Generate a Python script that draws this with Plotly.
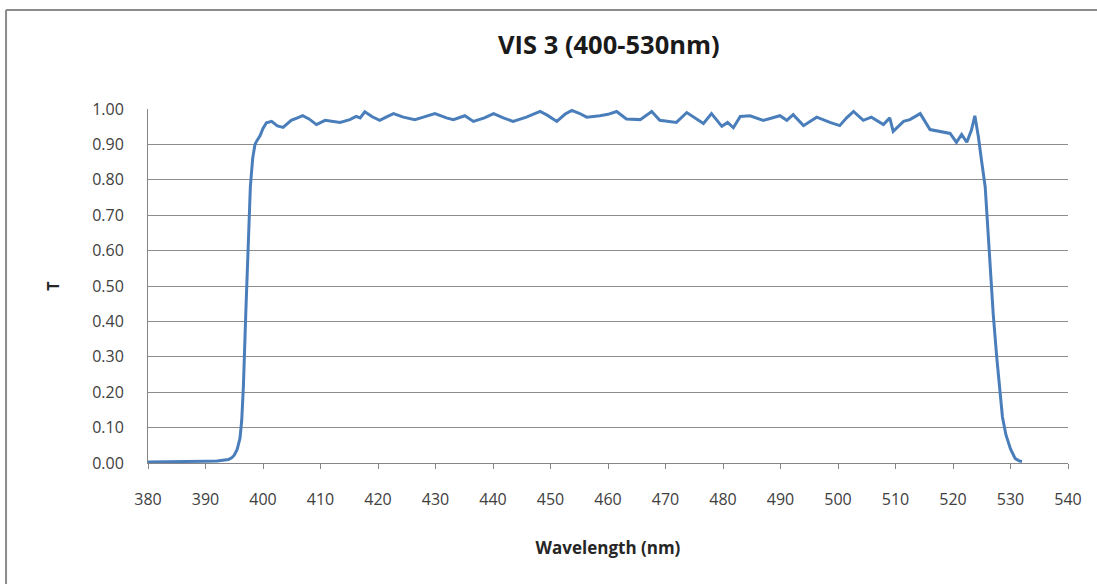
import plotly.graph_objects as go

# wavelength (nm) and transmission
wavelength = [380, 382, 384, 386, 388, 390, 392, 393, 394, 394.5, 395, 395.5, 396, 396.3,
              396.6, 397, 397.4, 397.8, 398.2, 398.6, 399, 399.5, 400, 400.6, 401.5, 402.5,
              403.5, 404.9, 406.0, 406.9, 408.0, 409.3, 410.8, 412.0, 413.4, 415.1, 416.2,
              416.9, 417.7, 419.0, 420.3, 421.5, 422.7, 424.4, 426.4, 427.9, 429.9, 431.9,
              433.1, 435.1, 436.6, 438.5, 440.1, 441.8, 443.5, 445.8, 447.0, 448.2, 449.5,
              451.1, 452.5, 453.7, 455.0, 456.3, 458.6, 460.0, 461.5, 463.2, 465.6, 467.6,
              469.0, 470.5, 471.9, 473.7, 475.2, 476.6, 478.0, 479.8, 480.8, 481.8, 483.0,
              484.7, 487.0, 488.5, 489.9, 491.1, 492.2, 494.0, 496.3, 498.6, 500.3, 501.5,
              502.7, 504.4, 505.8, 507.9, 509.0, 509.6, 511.4, 512.5, 514.3, 516.0, 517.7,
              519.5, 520.6, 521.5, 522.4, 523.2, 523.8, 524.4, 525.0, 525.6, 526.3, 527.0,
              527.6, 528.2, 528.6, 529.2, 530.0, 530.8, 531.5, 532.0]
transmission = [0.003, 0.003, 0.004, 0.004, 0.005, 0.005, 0.006, 0.007, 0.010, 0.014, 0.022,
                0.038, 0.07, 0.12, 0.22, 0.42, 0.62, 0.78, 0.86, 0.90, 0.912, 0.925, 0.945,
                0.961, 0.965, 0.952, 0.948, 0.968, 0.975, 0.981, 0.972, 0.956, 0.968, 0.965,
                0.962, 0.970, 0.979, 0.975, 0.992, 0.978, 0.968, 0.978, 0.987, 0.977, 0.970,
                0.977, 0.987, 0.975, 0.970, 0.981, 0.965, 0.975, 0.987, 0.975, 0.965, 0.977,
                0.985, 0.993, 0.982, 0.965, 0.985, 0.996, 0.988, 0.977, 0.981, 0.985, 0.993,
                0.972, 0.970, 0.993, 0.968, 0.966, 0.962, 0.990, 0.975, 0.959, 0.987, 0.951,
                0.962, 0.947, 0.979, 0.981, 0.968, 0.975, 0.981, 0.968, 0.984, 0.953, 0.977,
                0.962, 0.953, 0.975, 0.993, 0.968, 0.977, 0.956, 0.975, 0.937, 0.965, 0.970,
                0.987, 0.942, 0.937, 0.931, 0.906, 0.928, 0.906, 0.94, 0.981, 0.923, 0.85,
                0.78, 0.60, 0.42, 0.30, 0.20, 0.13, 0.08, 0.04, 0.013, 0.006, 0.004]

fig = go.Figure()

fig.add_trace(go.Scatter(x=wavelength, y=transmission, mode='lines',
                         line=dict(color='#4A7EBB', width=3), showlegend=False))

fig.update_layout(
    width=1097, height=584,
    margin=dict(l=148, r=29, t=109, b=121),
    paper_bgcolor='white', plot_bgcolor='white',
    font=dict(family='Open Sans, Liberation Sans, sans-serif', color='#404040'),
    title=dict(text='<b>VIS 3 (400-530nm)</b>', x=0.555, xanchor='center', y=0.923,
               yanchor='middle', font=dict(size=25.5, color='#1a1a1a')),
    xaxis=dict(range=[380, 540], dtick=10, tick0=380, showgrid=False,
               showline=True, linecolor='#868686', linewidth=1,
               ticks='outside', ticklen=5, tickcolor='#868686',
               ticklabelstandoff=17,
               tickfont=dict(size=16), zeroline=False,
               title=dict(text='<b>Wavelength (nm)</b>', font=dict(size=17, color='#262626'),
                          standoff=32)),
    yaxis=dict(range=[0, 1.0], dtick=0.1, tickformat='.2f', showgrid=True,
               gridcolor='#8c8c8c', gridwidth=1, showline=True, linecolor='#868686',
               linewidth=1, ticks='', ticklabelstandoff=20,
               tickfont=dict(size=16), zeroline=False,
               title=dict(text='<b>T</b>', font=dict(size=16, color='#262626'), standoff=28)),
)

# chart frame: left and top edges only
fig.add_shape(type='line', xref='paper', yref='paper',
              x0=-0.1543, x1=-0.1543, y0=-0.345, y1=1.2797,
              line=dict(color='#8c8c8c', width=2))
fig.add_shape(type='line', xref='paper', yref='paper',
              x0=-0.1543, x1=1.04, y0=1.2797, y1=1.2797,
              line=dict(color='#8c8c8c', width=2))

fig.write_html("out.html", config={'displayModeBar': False},
               post_script="document.body.style.margin='0';")
